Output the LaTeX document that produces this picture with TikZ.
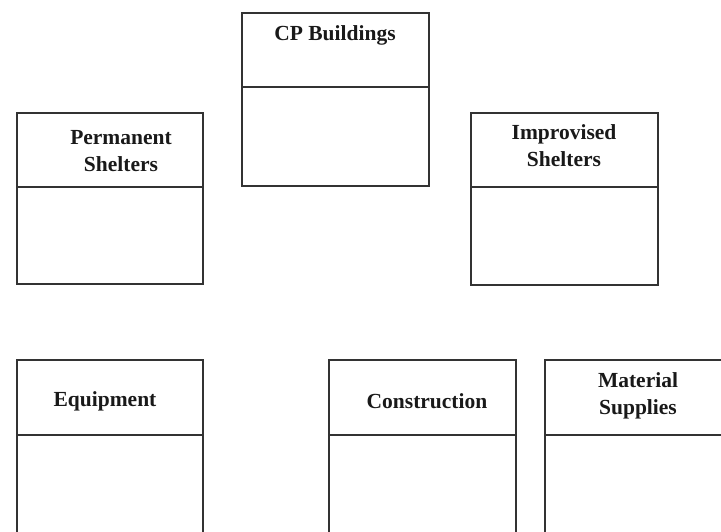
\documentclass[tikz,border=0pt]{standalone}
\usepackage{fontspec}
\setmainfont{Liberation Serif}
\begin{document}
\begin{tikzpicture}[x=1pt,y=-1pt,
  frame/.style={draw=black!80,line width=1.8pt},
  title/.style={font=\fontsize{21.5}{27}\selectfont\bfseries,align=center,text=black!90,inner sep=0pt}]
\useasboundingbox (0,0) rectangle (721,531);
\clip (0,0) rectangle (721,531);
% CP Buildings
\draw[frame] (242,13) rectangle (429,186);
\draw[frame] (242,87) -- (429,87);
\node[title] (cp) at (335,35) {CP Buildings};
% Permanent Shelters
\draw[frame] (17,113) rectangle (203,284);
\draw[frame] (17,187) -- (203,187);
\node[title] (perm) at (121,151) {Permanent\\Shelters};
% Improvised Shelters
\draw[frame] (471,113) rectangle (658,285);
\draw[frame] (471,187) -- (658,187);
\node[title] (impr) at (564,146) {Improvised\\Shelters};
% Equipment
\draw[frame] (17,360) rectangle (203,560);
\draw[frame] (17,435) -- (203,435);
\node[title] (equip) at (105,401) {Equipment};
% Construction
\draw[frame] (329,360) rectangle (516,560);
\draw[frame] (329,435) -- (516,435);
\node[title] (constr) at (427,401) {Construction};
% Material Supplies
\draw[frame] (545,360) rectangle (760,560);
\draw[frame] (545,435) -- (760,435);
\node[title] (mat) at (638,396) {Material\\Supplies};
\end{tikzpicture}
\end{document}
